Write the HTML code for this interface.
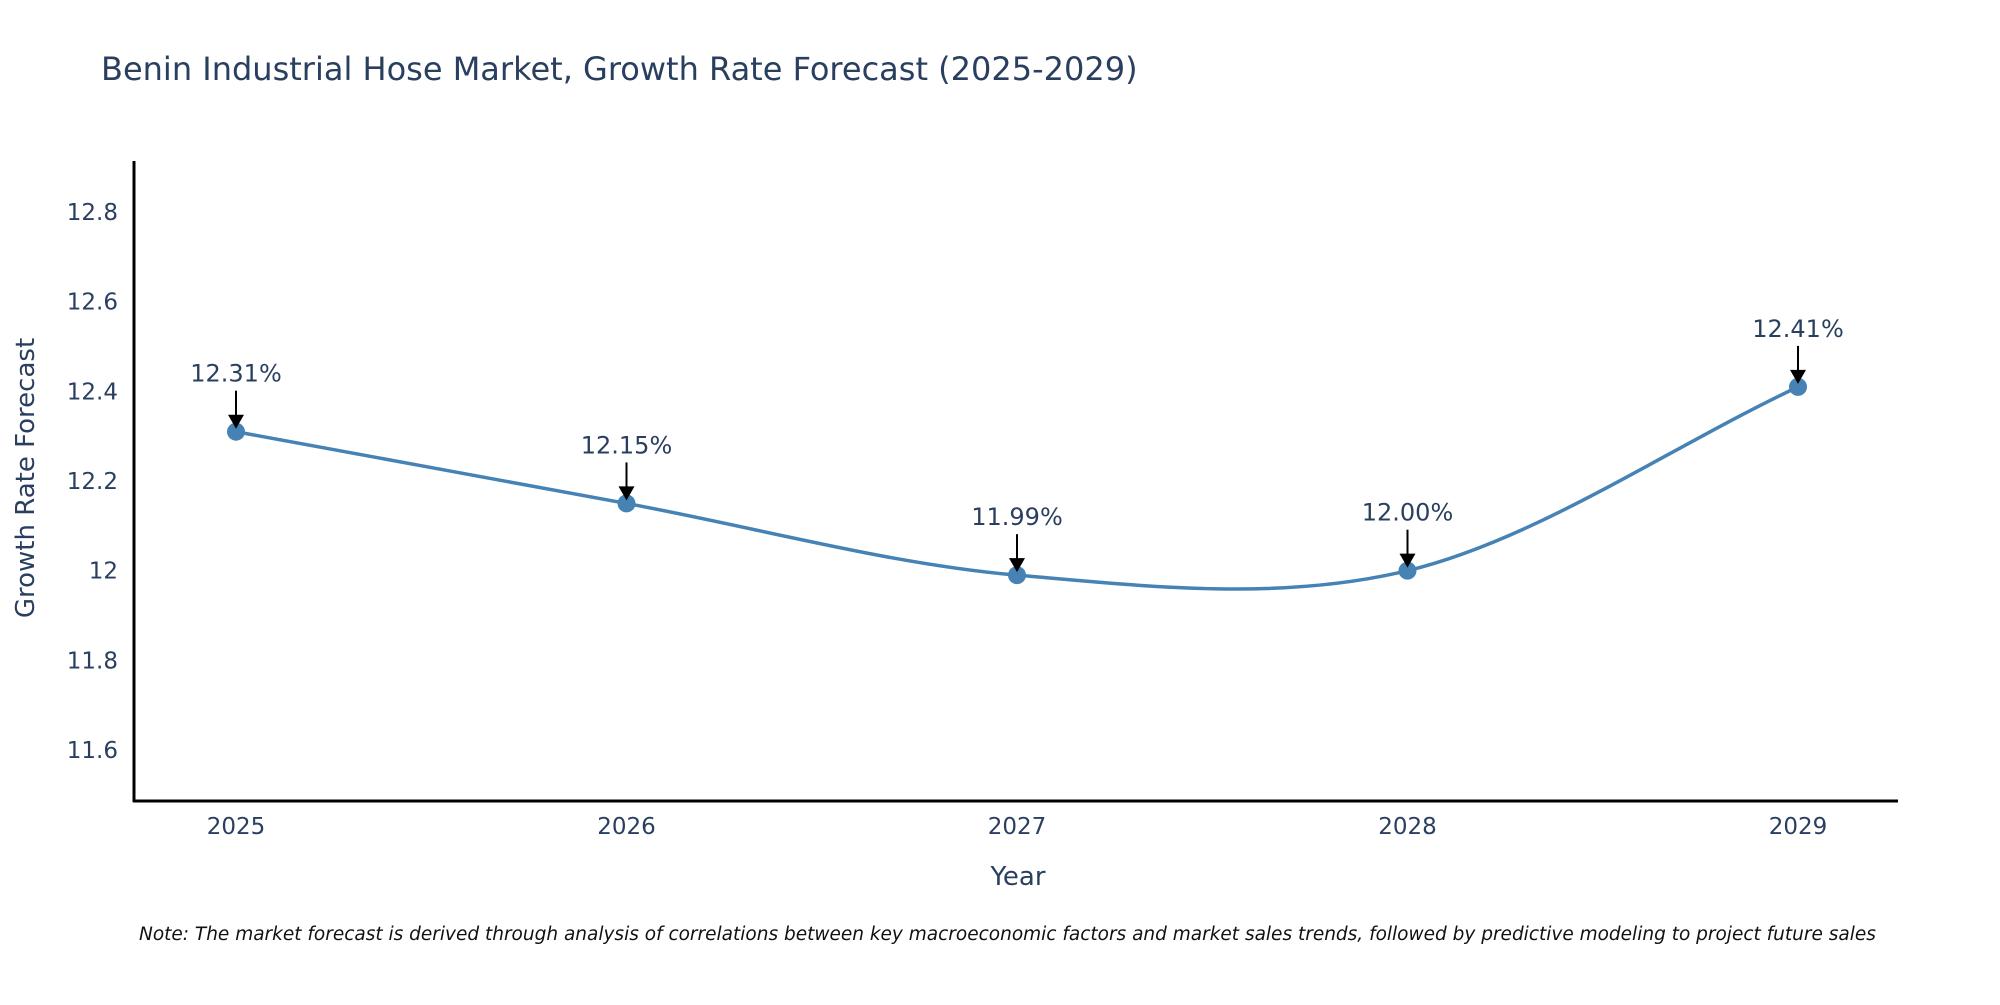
<!DOCTYPE html>
<html><head><meta charset="utf-8"><style>
body{margin:0;background:#fff;overflow:hidden;}
svg text{font-family:"DejaVu Sans","Liberation Sans",sans-serif;fill:#2a3f5f;}
</style></head><body>
<svg id="chart" width="2000" height="1000">
<text x="101" y="80" font-size="32">Benin Industrial Hose Market, Growth Rate Forecast (2025-2029)</text>
<g id="yticks"></g><g id="xticks"></g>
<line x1="134" y1="161" x2="134" y2="802" stroke="#000" stroke-width="3"/>
<line x1="133" y1="801" x2="1898" y2="801" stroke="#000" stroke-width="3"/>
<path id="line" fill="none" stroke="#4682b4" stroke-width="3.5"/>
<g id="marks"></g>
<text x="34" y="478" font-size="26" text-anchor="middle" transform="rotate(-90 34 478)">Growth Rate Forecast</text>
<text x="1018" y="885" font-size="26" text-anchor="middle">Year</text>
<text x="139" y="940" font-size="18.5" font-style="italic" style="fill:#111">Note: The market forecast is derived through analysis of correlations between key macroeconomic factors and market sales trends, followed by predictive modeling to project future sales</text>
</svg>
<script>
const years=[2025,2026,2027,2028,2029];
const values=[12.31,12.15,11.99,12.00,12.41];
const labels=["12.31%","12.15%","11.99%","12.00%","12.41%"];
const yTicks=[11.6,11.8,12,12.2,12.4,12.6,12.8];
const yTickLabels=["11.6","11.8","12","12.2","12.4","12.6","12.8"];
const NS="http://www.w3.org/2000/svg";
function X(v){return 236+(v-2025)*390.5;}
function Y(v){return 750-(v-11.6)*448.3;}
function mk(tag,attrs,parent,txt){const e=document.createElementNS(NS,tag);for(const k in attrs)e.setAttribute(k,attrs[k]);if(txt!=null)e.textContent=txt;parent.appendChild(e);return e;}
const yt=document.getElementById('yticks');
yTicks.forEach((t,i)=>{const e=mk('text',{x:118,y:Y(t)+8,'font-size':23,'text-anchor':'end'},yt,yTickLabels[i]);

});
const xt=document.getElementById('xticks');
years.forEach(t=>{const e=mk('text',{x:X(t),y:834,'font-size':23,'text-anchor':'middle'},xt,String(t));

});
const pts=years.map((y,i)=>[X(y),Y(values[i])]);
let d='M'+pts[0][0]+','+pts[0][1];const s=0.33;const n=pts.length;
for(let i=0;i<n-1;i++){const p0=pts[Math.max(0,i-1)],p1=pts[i],p2=pts[i+1],p3=pts[Math.min(n-1,i+2)];
let c1,c2;
if(i==0)c1=[p1[0]+(p2[0]-p1[0])*s,p1[1]+(p2[1]-p1[1])*s];
else c1=[p1[0]+(p2[0]-p0[0])*s/2,p1[1]+(p2[1]-p0[1])*s/2];
if(i==n-2)c2=[p2[0]-(p2[0]-p1[0])*s,p2[1]-(p2[1]-p1[1])*s];
else c2=[p2[0]-(p3[0]-p1[0])*s/2,p2[1]-(p3[1]-p1[1])*s/2];
d+=` C${c1[0]},${c1[1]} ${c2[0]},${c2[1]} ${p2[0]},${p2[1]}`;}
document.getElementById('line').setAttribute('d',d);
const mg=document.getElementById('marks');
pts.forEach((p,i)=>{
const c=mk('circle',{cx:p[0],cy:p[1],r:9,fill:'#4682b4'},mg);


const l=mk('line',{x1:p[0],y1:p[1]-41,x2:p[0],y2:p[1]-16,stroke:'#000','stroke-width':2},mg);


const h=mk('polygon',{points:`${p[0]-8},${p[1]-17} ${p[0]+8},${p[1]-17} ${p[0]},${p[1]-3}`,fill:'#000'},mg);


const t=mk('text',{x:p[0],y:p[1]-50,'font-size':24,'text-anchor':'middle'},mg,labels[i]);


});
</script>
</body></html>
